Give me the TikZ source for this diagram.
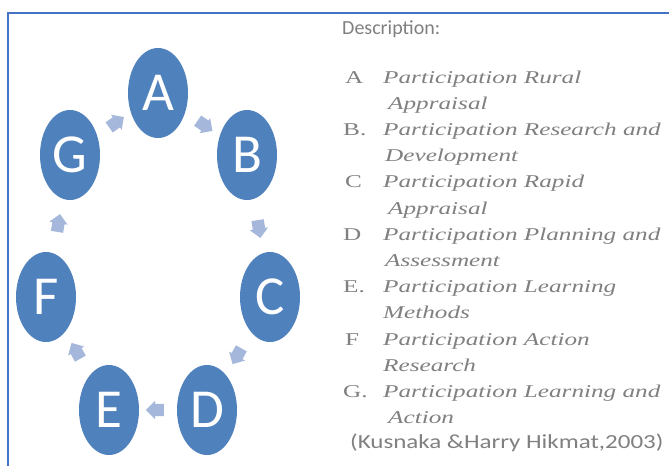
\documentclass[tikz,border=0pt]{standalone}
\usepackage{fontspec}
\usetikzlibrary{shapes.geometric,shapes.arrows}
\newfontfamily\lblfont{Carlito}
\newfontfamily\descfont{Carlito}
\newfontfamily\citefont[FakeStretch=1.25]{Carlito}
\newfontfamily\itemfont[FakeStretch=1.4]{Liberation Serif}
\definecolor{ellblue}{RGB}{79,129,189}
\definecolor{arrblue}{RGB}{165,184,219}
\definecolor{frameblue}{RGB}{68,114,196}
\definecolor{txtgray}{RGB}{128,128,128}
\begin{document}
\begin{tikzpicture}[x=1pt,y=-1pt,
  circ/.style={ellipse, fill=ellblue, minimum width=60pt, minimum height=90pt, inner sep=0pt, text=white, font=\lblfont\fontsize{55}{55}\selectfont},
  flow/.style={single arrow, fill=arrblue, inner xsep=0pt, inner ysep=6pt, minimum height=18pt, single arrow head extend=3pt, sloped, allow upside down, midway},
  lett/.style={anchor=base west, font=\itemfont\fontsize{18}{18}\selectfont, text=txtgray, inner sep=0pt},
  itm/.style={anchor=base west, font=\itemfont\itshape\fontsize{18}{18}\selectfont, text=txtgray, inner sep=0pt},
  desc/.style={anchor=base west, font=\descfont\fontsize{20}{20}\selectfont, text=txtgray, inner sep=0pt},
  cite/.style={anchor=base west, font=\citefont\fontsize{20}{20}\selectfont, text=txtgray, inner sep=0pt},
]
\useasboundingbox (0,0) rectangle (669,466);
\fill[white] (0,0) rectangle (669,466);
% frame
\draw[frameblue, line width=2pt] (669,13) -- (8,13) -- (8,466);
% cycle
\node[circ] (A) at (158,93) {A};
\node[circ] (B) at (247,155) {B};
\node[circ] (C) at (270,297) {C};
\node[circ] (D) at (207,410) {D};
\node[circ] (E) at (109,410) {E};
\node[circ] (F) at (46,297) {F};
\node[circ] (G) at (70,155) {G};
\path (A) -- (B) node[flow] (ab) {};
\path (B) -- (C) node[flow] (bc) {};
\path (C) -- (D) node[flow] (cd) {};
\path (D) -- (E) node[flow] (de) {};
\path (E) -- (F) node[flow] (ef) {};
\path (F) -- (G) node[flow] (fg) {};
\path (G) -- (A) node[flow] (ga) {};
% description
\node[desc] (dtitle) at (342,34) {Description:};
\node[lett] (la) at (345,83) {A};
\node[itm] (ta1) at (383,83) {Participation Rural};
\node[itm] (ta2) at (388,109.2) {Appraisal};
\node[lett] (lb) at (343,135.4) {B.};
\node[itm] (tb1) at (383,135.4) {Participation Research and};
\node[itm] (tb2) at (385,161.6) {Development};
\node[lett] (lc) at (345,187.8) {C};
\node[itm] (tc1) at (383,187.8) {Participation Rapid};
\node[itm] (tc2) at (388,214) {Appraisal};
\node[lett] (ld) at (343,240.2) {D};
\node[itm] (td1) at (383,240.2) {Participation Planning and};
\node[itm] (td2) at (385,266.4) {Assessment};
\node[lett] (le) at (343,292.6) {E.};
\node[itm] (te1) at (383,292.6) {Participation Learning};
\node[itm] (te2) at (383,318.8) {Methods};
\node[lett] (lf) at (345,345) {F};
\node[itm] (tf1) at (383,345) {Participation Action};
\node[itm] (tf2) at (383,371.2) {Research};
\node[lett] (lg) at (343,397.4) {G.};
\node[itm] (tg1) at (383,397.4) {Participation Learning and};
\node[itm] (tg2) at (388,423.6) {Action};
\node[cite] (ct) at (350,448) {(Kusnaka \&Harry Hikmat,2003)};
\end{tikzpicture}
\end{document}
